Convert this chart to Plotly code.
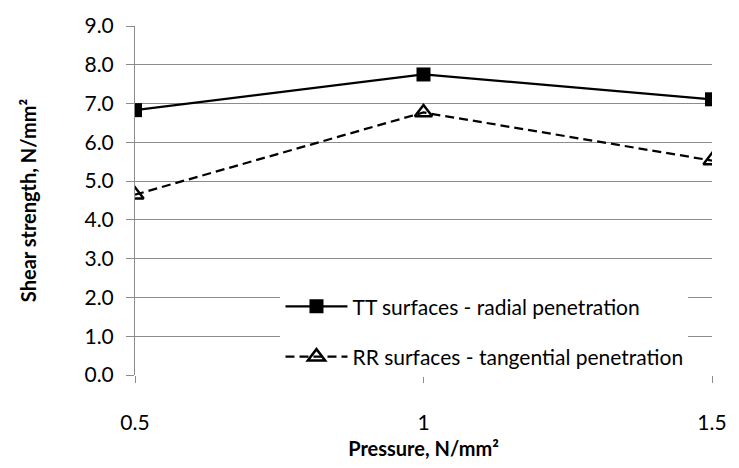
import plotly.graph_objects as go

pressure = [0.5, 1.0, 1.5]
pressure_labels = ["0.5", "1", "1.5"]
tt_radial = [6.83, 7.75, 7.11]
rr_tangential = [4.65, 6.77, 5.53]
y_ticks = [0, 1, 2, 3, 4, 5, 6, 7, 8, 9]

FONT = "Lato"
GRID = "#8c8c8c"

fig = go.Figure()
fig.add_trace(go.Scatter(
    x=pressure, y=tt_radial, mode="lines+markers",
    name="TT surfaces - radial penetration",
    line=dict(color="black", width=2.25),
    marker=dict(symbol="square", size=14, color="black"),
    legendgroup="a",
))
fig.add_trace(go.Scatter(
    x=pressure, y=rr_tangential, mode="lines+markers",
    name="RR surfaces - tangential penetration",
    line=dict(color="black", width=2.25, dash="9px,5px"),
    marker=dict(symbol="triangle-up-open", size=15, color="black",
                line=dict(color="black", width=2.5)),
    legendgroup="b",
))

fig.update_layout(
    width=739, height=468,
    margin=dict(l=135, r=17, t=23, b=81),
    paper_bgcolor="white", plot_bgcolor="white",
    font=dict(family=FONT, size=21, color="black"),
    showlegend=True,
    legend=dict(
        x=(283 - 135) / 587, y=0.124, xanchor="left", yanchor="middle",
        bgcolor="white", borderwidth=0,
        font=dict(family=FONT, size=21, color="black"),
        traceorder="grouped", tracegroupgap=20,
        itemwidth=62,
    ),
    xaxis=dict(
        range=[0.5, 1.5], tickvals=pressure, ticktext=pressure_labels,
        showgrid=False, zeroline=False, showline=False,
        ticks="outside", ticklen=7, tickcolor=GRID, tickwidth=1,
        ticklabelstandoff=22,
        title=dict(text="<b>Pressure, N/mm²</b>", font=dict(family=FONT, size=20), standoff=8),
    ),
    yaxis=dict(
        range=[0, 9], tickvals=y_ticks, ticktext=[f"{v:.1f}" for v in y_ticks],
        showgrid=True, gridcolor=GRID, gridwidth=1,
        zeroline=False, showline=True, linecolor=GRID, linewidth=1,
        ticks="outside", ticklen=8, tickcolor=GRID,
        ticklabelstandoff=8,
        title=dict(text="<b>Shear strength, N/mm²</b>", font=dict(family=FONT, size=20), standoff=42),
    ),
)
fig.write_html("out.html")
